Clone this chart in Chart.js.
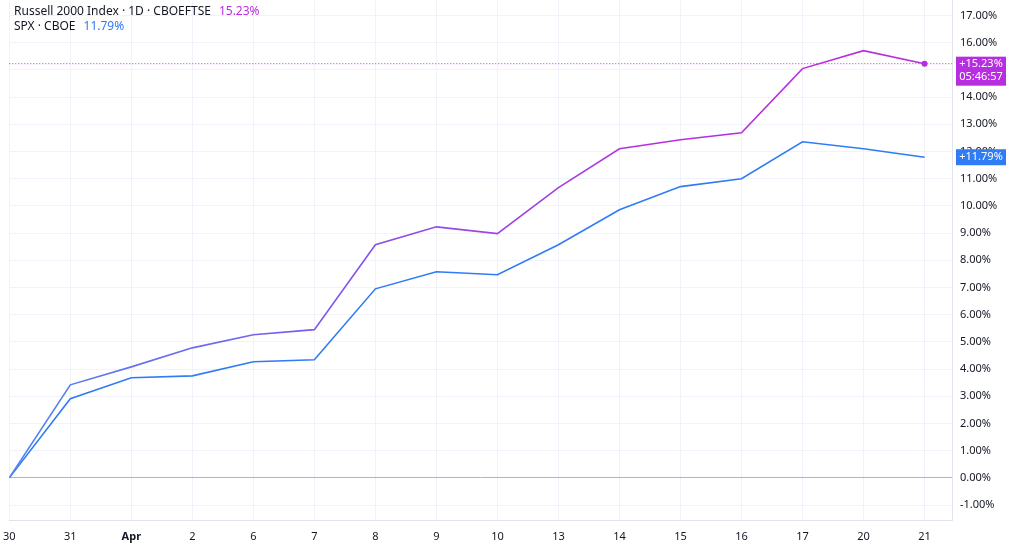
<!DOCTYPE html>
<html>
<head>
<script src="https://cdn.jsdelivr.net/npm/chart.js@4"></script>
<style>
html,body{margin:0;padding:0;background:#fff;overflow:hidden;}
#wrap{width:1024px;height:552px;overflow:hidden;}
#myChart{margin-top:-14px;margin-left:-6px;display:block;}
</style>
</head>
<body>
<div id="wrap"><canvas id="myChart" width="1030" height="566"></canvas></div>
<script>
var dateLabels = ['30', '31', 'Apr', '2', '6', '7', '8', '9', '10', '13', '14', '15', '16', '17', '20', '21']
var russellData = [0, 3.42, 4.08, 4.78, 5.26, 5.45, 8.57, 9.23, 8.98, 10.67, 12.1, 12.43, 12.69, 15.05, 15.71, 15.23]
var spxData = [0, 2.91, 3.68, 3.75, 4.27, 4.34, 6.95, 7.58, 7.47, 8.57, 9.86, 10.71, 11.0, 12.36, 12.1, 11.79]
var yTicks = [-1, 0, 1, 2, 3, 4, 5, 6, 7, 8, 9, 10, 11, 12, 13, 14, 15, 16, 17]

const purple = '#b72ee0'
const blue = '#2f7cf6'

function pts(arr) { return arr.map((v, i) => ({x: i, y: v})) }

// legend text, price badges and the dotted last-value line
const overlay = {
    id: 'overlay',
    afterDatasetsDraw(chart) {
        const c = chart.ctx, xs = chart.scales.x, ys = chart.scales.y
        c.save()
        c.font = '12px "Noto Sans", sans-serif'
        c.textBaseline = 'middle'
        let t1 = 'Russell 2000 Index · 1D · CBOEFTSE'
        c.fillStyle = '#131722'; c.fillText(t1, 20, 26)
        c.fillStyle = purple; c.fillText('15.23%', 20 + c.measureText(t1).width + 8, 26)
        let t2 = 'SPX · CBOE'
        c.fillStyle = '#131722'; c.fillText(t2, 20, 41)
        c.fillStyle = blue; c.fillText('11.79%', 20 + c.measureText(t2).width + 8, 41)

        const last = russellData.length - 1
        let yr = ys.getPixelForValue(russellData[last])
        c.strokeStyle = purple; c.setLineDash([1, 2]); c.lineWidth = 1
        c.beginPath(); c.moveTo(xs.left, yr); c.lineTo(xs.right, yr); c.stroke()
        c.setLineDash([])
        c.fillStyle = purple
        c.beginPath(); c.arc(xs.getPixelForValue(last), yr, 3, 0, Math.PI * 2); c.fill()

        c.fillRect(xs.right + 4, yr - 7, 50, 29)
        c.fillStyle = '#fff'; c.font = '11px "Noto Sans", sans-serif'
        c.textAlign = 'center'
        c.fillText('+15.23%', xs.right + 29, yr)
        c.fillText('05:46:57', xs.right + 29, yr + 13)

        let yb = ys.getPixelForValue(spxData[last])
        c.fillStyle = blue
        c.fillRect(xs.right + 4, yb - 8, 50, 16)
        c.fillStyle = '#fff'
        c.fillText('+11.79%', xs.right + 29, yb)
        c.restore()
    }
}

let ctx = document.getElementById('myChart').getContext('2d')
let myChart = new Chart(ctx, {
    type: 'line',
    data: {
        datasets: [{
            label: 'Russell 2000',
            data: pts(russellData),
            borderColor: (context) => {
                const a = context.chart.chartArea
                if (!a) return purple
                const g = context.chart.ctx.createLinearGradient(a.left, 0, a.right, 0)
                g.addColorStop(0, '#4f86f0'); g.addColorStop(0.3, '#7a5cec'); g.addColorStop(0.7, purple); g.addColorStop(1, purple)
                return g
            },
            borderWidth: 1.6,
            pointRadius: 0,
            tension: 0
        },
        {
            label: 'SPX',
            data: pts(spxData),
            borderColor: blue,
            borderWidth: 1.6,
            pointRadius: 0,
            tension: 0
        }]
    },
    options: {
        responsive: false,
        animation: false,
        layout: {padding: {left: 0, top: 0, bottom: 0, right: 0}},
        plugins: {legend: {display: false}, tooltip: {enabled: false}},
        scales: {
            x: {
                type: 'linear', min: 0, max: 15.45,
                afterBuildTicks: (s) => { s.ticks = dateLabels.map((l, i) => ({value: i})) },
                ticks: {
                    autoSkip: false, maxRotation: 0, color: '#131722', padding: 9,
                    font: (c) => ({family: '"Noto Sans", sans-serif', size: 11, weight: c.tick && c.tick.value === 2 ? 'bold' : 'normal'}),
                    callback: (v) => dateLabels[v]
                },
                grid: {color: '#f0f3fa', drawTicks: false},
                border: {color: '#e0e3eb'}
            },
            y: {
                position: 'right', min: -1.58, max: 17.55,
                afterBuildTicks: (s) => { s.ticks = yTicks.map(v => ({value: v})) },
                afterFit: (s) => { s.width = 72 },
                ticks: {
                    color: '#131722', padding: 8,
                    font: {family: '"Noto Sans", sans-serif', size: 11},
                    callback: (v) => v.toFixed(2) + '%'
                },
                grid: {color: (c) => c.tick && c.tick.value === 0 ? '#b2b5be' : '#f0f3fa', drawTicks: false},
                border: {color: '#e0e3eb'}
            }
        }
    },
    plugins: [overlay]
})
</script>
</body>
</html>
